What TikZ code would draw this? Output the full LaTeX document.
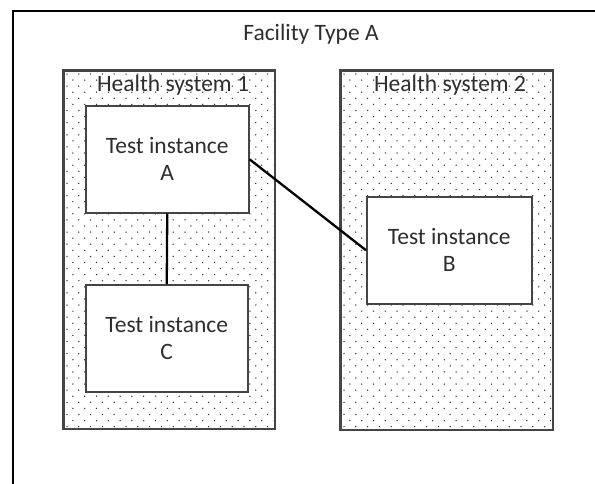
\documentclass[tikz,border=0pt]{standalone}
\usepackage{fontspec}
\setmainfont{Carlito}
\usetikzlibrary{shadows}
\definecolor{inkgray}{HTML}{2E2E2E}
\definecolor{edgegray}{HTML}{454545}
\definecolor{dotgray}{HTML}{333333}
\begin{document}
\begin{tikzpicture}[x=1pt,y=-1pt,
  lbl/.style={text=inkgray,font=\fontsize{23.5}{27}\selectfont,inner sep=0pt},
  sysbox/.style={draw=edgegray,fill=white,line width=1.5pt,anchor=north west,inner sep=0pt,
    drop shadow={shadow xshift=1pt,shadow yshift=-1.2pt,opacity=0.35,fill=gray}},
  testbox/.style={sysbox,align=center},
  conn/.style={line width=2.3pt,black}]
\useasboundingbox (0,0) rectangle (595,483);
\fill[white] (0,0) rectangle (595,483);

% outer facility frame (runs off the page to the right and bottom)
\draw[line width=2.4pt,black] (13,490) -- (13,11) -- (600,11);
\node[lbl] (ftitle) at (311,34) {Facility Type A};

% health system containers
\node[sysbox,minimum width=211pt,minimum height=358pt] (hs1) at (63,70) {};
\node[sysbox,minimum width=212pt,minimum height=359pt] (hs2) at (340,70) {};

% stippled fill of the containers
\foreach \bx/\by/\bw/\bh in {63/70/211/358, 340/70/212/359}{
  \begin{scope}
    \clip (\bx+1,\by+1) rectangle (\bx+\bw-1,\by+\bh-1);
    \foreach \r in {0,...,59}{
      \pgfmathsetmacro{\yy}{\by+4+\r*6.08}
      \pgfmathsetmacro{\xo}{mod(\r,2)*5.9}
      \foreach \c in {0,...,18}{
        \fill[dotgray] (\bx+4+\xo+\c*11.8,\yy) circle (0.75);
      }
    }
  \end{scope}
}
\draw[edgegray,line width=1.5pt] (hs1.north west) rectangle (hs1.south east);
\draw[edgegray,line width=1.5pt] (hs2.north west) rectangle (hs2.south east);

\node[lbl] (hs1t) at (173,85) {Health system 1};
\node[lbl] (hs2t) at (450,85) {Health system 2};

% test instances
\node[testbox,minimum width=163pt,minimum height=107pt] (A) at (85,105) {};
\node[testbox,minimum width=162pt,minimum height=107pt] (C) at (85,284) {};
\node[testbox,minimum width=165pt,minimum height=107pt] (B) at (366,196) {};
\node[lbl,align=center] (At) at (A.center) {Test instance\\A};
\node[lbl,align=center] (Ct) at (C.center) {Test instance\\C};
\node[lbl,align=center] (Bt) at (B.center) {Test instance\\B};

% links between instances
\draw[conn] (A.south) -- (C.north);
\draw[conn] (A.east) -- (B.west);
\end{tikzpicture}
\end{document}
